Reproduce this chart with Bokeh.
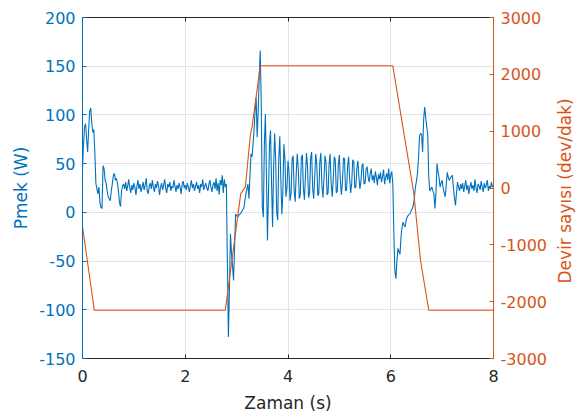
import math
from bokeh.plotting import figure
from bokeh.models import Range1d, LinearAxis, FixedTicker, PrintfTickFormatter
from bokeh.embed import file_html
from bokeh.resources import INLINE

# ---- data -------------------------------------------------------------
# Pmek (W) sampled every 0.02 s from 0 to 8 s
pmek_step = 0.02
pmek_w = [
    45, 70, 88, 91, 75, 62, 85, 104, 107, 92,
    82, 85, 62, 30, 24, 19, 26, 10, 5, 4,
    48, 45, 33, 30, 22, 16, 14, 12, 22, 29,
    38, 40, 33, 35, 30, 22, 10, 6, 22, 27,
    29, 24, 31, 22, 27, 34, 25, 20, 28, 23,
    30, 26, 18, 27, 33, 24, 29, 21, 26, 31,
    23, 28, 35, 22, 19, 27, 30, 24, 33, 26,
    21, 29, 25, 32, 27, 18, 26, 30, 23, 28,
    34, 24, 20, 29, 26, 31, 22, 27, 25, 33,
    27, 21, 28, 24, 30, 26, 19, 29, 32, 25,
    28, 23, 30, 26, 21, 27, 33, 25, 29, 22,
    27, 31, 24, 28, 20, 29, 26, 34, 23, 27,
    30, 25, 22, 29, 33, 26, 21, 28, 31, 24,
    35, 22, 30, 18, 33, 28, 38, 20, 34, 26,
    29, -50, -128, -80, -22, -42, -55, -70, -36, -2,
    -3, -5, -3, -2, -1, 1, 3, 4, 12, 19,
    24, 29, 14, 38, 60, 57, 70, 85, 105, 118,
    77, 104, 140, 166, 108, 5, -5, 70, 101, 40,
    -29, 20, 70, 84, 30, -15, 45, 81, 55, 0,
    -8, 55, 78, 35, -2, 20, 70, 55, 16, 25,
    53, 42, 12, 20, 55, 58, 22, 11, 40, 60,
    45, 14, 18, 56, 59, 24, 13, 38, 61, 47,
    15, 20, 55, 62, 25, 14, 36, 60, 50, 17,
    19, 52, 61, 28, 15, 34, 58, 52, 18, 20,
    50, 60, 30, 16, 33, 57, 54, 20, 22, 49,
    59, 32, 18, 31, 56, 55, 22, 23, 47, 57,
    34, 20, 30, 54, 52, 25, 26, 45, 53, 36,
    24, 32, 48, 50, 29, 30, 44, 47, 36, 31,
    40, 45, 33, 38, 30, 42, 36, 28, 39, 34,
    41, 31, 37, 44, 29, 36, 40, 33, 45, 30,
    38, 42, 30, -20, -60, -68, -50, -37, -40, -43,
    -25, -15, -10, -13, -15, -8, -5, -3, -2, -1,
    2, 4, 7, 15, 26, 32, 40, 55, 78, 81,
    80, 62, 95, 108, 98, 88, 80, 36, 22, 24,
    26, 22, 19, 4, 20, 50, 42, 36, 26, 30,
    33, 25, 20, 16, 28, 41, 36, 33, 35, 37,
    38, 25, 15, 7, 20, 31, 26, 22, 29, 24,
    30, 21, 27, 33, 23, 28, 19, 26, 31, 24,
    28, 22, 34, 25, 20, 29, 27, 23, 32, 26,
    21, 30, 25, 28, 33, 22, 27, 24, 31, 26,
    28,
]
pmek_t = [i * pmek_step for i in range(len(pmek_w))]

# Devir sayisi (dev/dak)
devir_t = [0, 0.23, 2.78, 3.08, 3.17, 3.27, 3.30, 3.46, 6.04, 6.45, 6.58, 6.74, 8]
devir_rpm = [-680, -2150, -2150, -100, 20, 950, 1070, 2150, 2150, -100, -1280, -2150, -2150]

x_ticks = [0, 2, 4, 6, 8]
left_ticks = [-150, -100, -50, 0, 50, 100, 150, 200]
right_ticks = [-3000, -2000, -1000, 0, 1000, 2000, 3000]

# ---- style ------------------------------------------------------------
BLUE = "#0072BD"
ORANGE = "#D95319"
DARK = "#262626"
FONT = "DejaVu Sans"
TICK_SIZE = "16px"
LABEL_SIZE = "17px"
FRAME_W, FRAME_H = 411, 341
RIGHT_LABEL = "Devir sayısı (dev/dak)"
RIGHT_LABEL_START = -1680   # where the bottom-to-top label begins (rpm units)

p = figure(frame_width=FRAME_W, frame_height=FRAME_H,
           x_range=Range1d(0, 8), y_range=Range1d(-150, 200),
           output_backend="svg", toolbar_location=None,
           min_border_left=82, min_border_right=86,
           min_border_top=17, min_border_bottom=58)
p.outline_line_color = DARK
p.outline_line_width = 1
p.background_fill_color = "white"
p.border_fill_color = "white"

p.extra_y_ranges = {"rpm": Range1d(-3000, 3000)}

# grid
p.xgrid.ticker = FixedTicker(ticks=x_ticks)
p.ygrid.ticker = FixedTicker(ticks=left_ticks)
p.grid.grid_line_color = "#e3e3e3"
p.grid.grid_line_width = 1

fmt = PrintfTickFormatter(format="%d")

# bottom axis
xa = p.xaxis[0]
xa.ticker = FixedTicker(ticks=x_ticks)
xa.formatter = fmt
xa.axis_label = "Zaman (s)"
xa.axis_line_color = DARK
xa.major_tick_line_color = DARK
xa.major_tick_in = 4
xa.major_tick_out = 0
xa.minor_tick_line_color = None
xa.major_label_text_color = DARK
xa.major_label_text_font = FONT
xa.major_label_text_font_size = TICK_SIZE
xa.major_label_standoff = 11
xa.axis_label_text_font = FONT
xa.axis_label_text_font_size = LABEL_SIZE
xa.axis_label_text_font_style = "normal"
xa.axis_label_text_color = DARK
xa.axis_label_standoff = 8

# top box ticks (no labels)
ta = LinearAxis(ticker=FixedTicker(ticks=x_ticks))
ta.axis_line_color = DARK
ta.major_tick_line_color = DARK
ta.major_tick_in = 4
ta.major_tick_out = 0
ta.minor_tick_line_color = None
ta.major_label_text_font_size = "0px"
ta.major_label_text_color = None
ta.major_label_standoff = 0
p.add_layout(ta, "above")

# left axis
ya = p.yaxis[0]
ya.ticker = FixedTicker(ticks=left_ticks)
ya.formatter = fmt
ya.axis_label = "Pmek (W)"
ya.axis_line_color = BLUE
ya.major_tick_line_color = BLUE
ya.major_tick_in = 4
ya.major_tick_out = 0
ya.minor_tick_line_color = None
ya.major_label_text_color = BLUE
ya.major_label_text_font = FONT
ya.major_label_text_font_size = TICK_SIZE
ya.major_label_standoff = 7
ya.axis_label_text_font = FONT
ya.axis_label_text_font_size = LABEL_SIZE
ya.axis_label_text_font_style = "normal"
ya.axis_label_text_color = BLUE
ya.axis_label_standoff = 5

# right axis (ticks)
ra = LinearAxis(y_range_name="rpm", ticker=FixedTicker(ticks=right_ticks),
                formatter=fmt)
ra.axis_line_color = ORANGE
ra.major_tick_line_color = ORANGE
ra.major_tick_in = 4
ra.major_tick_out = 0
ra.minor_tick_line_color = None
ra.major_label_text_color = ORANGE
ra.major_label_text_font = FONT
ra.major_label_text_font_size = TICK_SIZE
ra.major_label_standoff = 7
p.add_layout(ra, "right")

# right axis title, reading bottom-to-top (drawn as a single rotated tick label)
rl = LinearAxis(y_range_name="rpm", ticker=FixedTicker(ticks=[RIGHT_LABEL_START]),
                major_label_overrides={RIGHT_LABEL_START: RIGHT_LABEL})
rl.axis_line_color = None
rl.major_tick_line_color = None
rl.minor_tick_line_color = None
rl.major_label_orientation = math.pi / 2
rl.major_label_text_color = ORANGE
rl.major_label_text_font = FONT
rl.major_label_text_font_size = LABEL_SIZE
rl.major_label_standoff = 10
p.add_layout(rl, "right")

# data lines
p.line(pmek_t, pmek_w, line_color=BLUE, line_width=1.1)
p.line(devir_t, devir_rpm, y_range_name="rpm", line_color=ORANGE, line_width=1.1)

open("out.html", "w").write(file_html(p, INLINE))
